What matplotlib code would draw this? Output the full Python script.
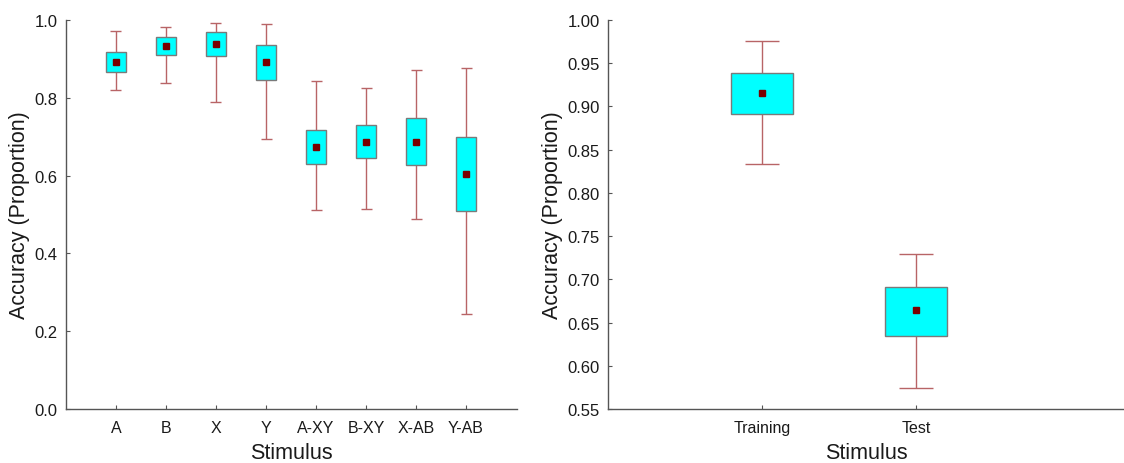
import numpy as np
from matplotlib import pyplot as plt

plt.rcParams['font.family'] = ['Liberation Sans', 'DejaVu Sans']

# 左图数据
left_labels = ['A', 'B', 'X', 'Y', 'A-XY', 'B-XY', 'X-AB', 'Y-AB']
left_mean = [0.893, 0.933, 0.938, 0.893, 0.674, 0.687, 0.687, 0.604]
left_box_lo = [0.867, 0.909, 0.908, 0.846, 0.630, 0.645, 0.626, 0.510]
left_box_hi = [0.917, 0.956, 0.969, 0.936, 0.717, 0.730, 0.749, 0.699]
left_whisk_lo = [0.820, 0.837, 0.790, 0.695, 0.512, 0.513, 0.488, 0.245]
left_whisk_hi = [0.971, 0.982, 0.992, 0.989, 0.843, 0.825, 0.871, 0.876]

# 右图数据
right_labels = ['Training', 'Test']
right_mean = [0.915, 0.664]
right_box_lo = [0.891, 0.635]
right_box_hi = [0.939, 0.691]
right_whisk_lo = [0.833, 0.574]
right_whisk_hi = [0.976, 0.729]

BOX_FACE = '#00ffff'
BOX_EDGE = '#7a7a7a'
WHISK = '#b86466'
MEAN = '#7a0000'
SPINE = '#555555'


def draw_boxes(ax, labels, mean, lo, hi, wlo, whi, xfont):
    x = np.arange(len(labels))
    ax.vlines(x, wlo, lo, color=WHISK, lw=1.0, zorder=1)
    ax.vlines(x, hi, whi, color=WHISK, lw=1.0, zorder=1)
    ax.hlines(wlo, x - 0.11, x + 0.11, color=WHISK, lw=1.0, zorder=1)
    ax.hlines(whi, x - 0.11, x + 0.11, color=WHISK, lw=1.0, zorder=1)
    ax.bar(x, np.array(hi) - np.array(lo), bottom=lo, width=0.4,
           color=BOX_FACE, edgecolor=BOX_EDGE, linewidth=1.0, zorder=2)
    ax.plot(x, mean, 's', color=MEAN, markersize=5, zorder=3)
    ax.set_xticks(x)
    ax.set_xticklabels(labels, fontsize=xfont)
    for s in ['top', 'right']:
        ax.spines[s].set_visible(False)
    for s in ['left', 'bottom']:
        ax.spines[s].set_color(SPINE)
        ax.spines[s].set_linewidth(1.0)
    ax.tick_params(axis='both', direction='in', colors=SPINE, labelcolor='#1a1a1a',
                   length=3, width=0.8)
    ax.tick_params(axis='y', labelsize=12, pad=6)
    ax.tick_params(axis='x', pad=8)
    ax.set_xlabel('Stimulus', fontsize=15.5, labelpad=5, color='#1a1a1a')
    ax.set_ylabel('Accuracy (Proportion)', fontsize=15.5, labelpad=3, color='#1a1a1a')


fig = plt.figure(figsize=(11.24, 4.64), dpi=100)

ax1 = fig.add_axes([0.0587, 0.1164, 0.4013, 0.8383])
draw_boxes(ax1, left_labels, left_mean, left_box_lo, left_box_hi,
           left_whisk_lo, left_whisk_hi, 11.5)
ax1.set_xlim(-1, 8.02)
ax1.set_ylim(0, 1.0)
ax1.set_yticks([0.0, 0.2, 0.4, 0.6, 0.8, 1.0])
ax1.set_yticklabels(['0.0', '0.2', '0.4', '0.6', '0.8', '1.0'])

ax2 = fig.add_axes([0.541, 0.1164, 0.459, 0.8383])
draw_boxes(ax2, right_labels, right_mean, right_box_lo, right_box_hi,
           right_whisk_lo, right_whisk_hi, 11.5)
ax2.set_xlim(-1, 2.35)
ax2.set_ylim(0.55, 1.0)
ax2.set_yticks(np.arange(0.55, 1.001, 0.05))
ax2.set_yticklabels(['%.2f' % v for v in np.arange(0.55, 1.001, 0.05)])

fig.savefig('out.png', dpi=100)
